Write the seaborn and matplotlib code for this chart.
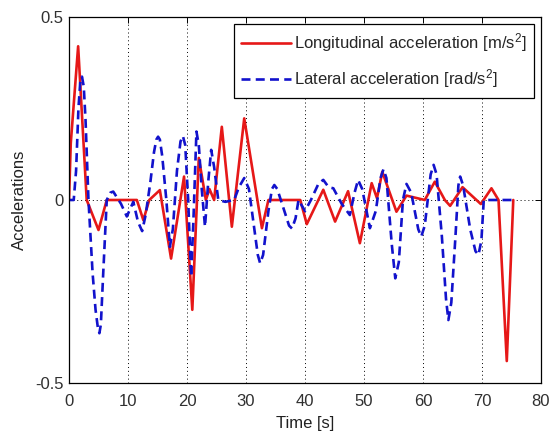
import matplotlib
matplotlib.use("Agg")
import matplotlib.pyplot as plt
import seaborn as sns
import pandas as pd

# Longitudinal acceleration (red, solid)
long_t = [0, 0.3, 1.55, 3.0, 5.0, 6.4, 11.5, 12.6, 13.6, 15.4, 17.3, 19.5, 20.9, 22.0,
          23.2, 23.8, 24.6, 25.9, 27.6, 29.7, 32.7, 33.8, 39.2, 40.3, 43.1, 45.1, 47.3,
          49.3, 51.3, 52.2, 53.1, 55.5, 57.2, 60.3, 62.0, 63.7, 64.6, 66.7, 69.8, 71.6,
          72.8, 74.2, 75.3]
long_v = [0, 0.155, 0.42, 0.0, -0.082, 0.0, 0.0, -0.055, 0.0, 0.027, -0.16, 0.064, -0.30, 0.115,
          0.0, 0.03, 0.0, 0.2, -0.073, 0.223, -0.077, 0.0, 0.0, -0.066, 0.028, -0.059, 0.024,
          -0.118, 0.046, 0.005, 0.077, -0.032, 0.012, 0.0, 0.05, 0.0, -0.016, 0.035, -0.011, 0.032,
          0.0, -0.44, 0.0]

# Lateral acceleration (blue, dashed)
lat_t = [0, 0.8, 1.2, 1.6, 1.9, 2.2, 2.5, 2.8, 3.3, 4.0, 4.5, 4.9, 5.15, 5.4, 5.8, 6.4,
         7.0, 7.5, 8.2, 8.8, 9.8, 10.9, 11.7, 12.4, 13.0, 13.8, 14.4, 14.8, 15.1, 15.4,
         15.8, 16.5, 17.1, 17.6, 18.3, 18.9, 19.3, 19.7, 20.2, 20.7, 21.1, 21.6, 22.0,
         22.5, 23.05, 23.6, 24.1, 24.6, 25.3, 26.5, 28.0, 28.8, 29.7, 30.5, 31.5, 32.0,
         32.4, 32.9, 33.8, 34.4, 34.8, 35.3, 36.5, 37.3, 37.8, 38.4, 38.9, 40.0, 41.0,
         42.3, 43.1, 44.0, 44.8, 46.2, 47.6, 48.4, 49.0, 49.7, 51.0, 52.0, 52.8, 53.3,
         53.8, 54.7, 55.3, 55.9, 56.6, 57.2, 58.0, 59.2, 59.7, 60.3, 61.3, 61.8, 62.3,
         63.2, 63.9, 64.3, 64.8, 65.5, 66.0, 66.3, 66.8, 68.0, 68.9, 69.4, 69.9, 70.3, 75.3]
lat_v = [0, 0.0, 0.08, 0.25, 0.32, 0.337, 0.31, 0.22, 0.0, -0.2, -0.3, -0.35, -0.364, -0.34,
         -0.2, 0.0, 0.02, 0.023, 0.005, -0.01, -0.045, -0.005, -0.06, -0.085, -0.04, 0.05,
         0.13, 0.165, 0.173, 0.165, 0.12, 0.0, -0.128, -0.08, 0.08, 0.16, 0.175, 0.15,
         0.0, -0.21, -0.05, 0.187, 0.15, 0.03, -0.073, 0.05, 0.137, 0.09, 0.0, -0.005,
         0.0, 0.035, 0.06, 0.03, -0.09, -0.15, -0.173, -0.15, -0.03, 0.03, 0.041, 0.03,
         -0.03, -0.07, -0.078, -0.05, 0.0, -0.03, 0.0, 0.045, 0.055, 0.035, 0.032, -0.01,
         -0.041, 0.02, 0.055, 0.03, -0.077, -0.03, 0.06, 0.084, 0.06, -0.12, -0.214,
         -0.17, 0.0, 0.044, 0.02, -0.08, -0.1, -0.07, 0.07, 0.096, 0.07, -0.1, -0.27,
         -0.328, -0.28, -0.1, 0.04, 0.064, 0.04, -0.08, -0.14, -0.15, -0.11, 0.0, 0.0]

long_label = "Longitudinal acceleration [m/s$^2$]"
lat_label = "Lateral acceleration [rad/s$^2$]"

x_ticks = [0, 10, 20, 30, 40, 50, 60, 70, 80]
y_ticks = [-0.5, 0, 0.5]
y_tick_labels = ["-0.5", "0", "0.5"]

sns.set_theme(style="white")
plt.rcParams["font.family"] = ["Liberation Sans", "DejaVu Sans"]
plt.rcParams["mathtext.fontset"] = "custom"
plt.rcParams["mathtext.rm"] = "Liberation Sans"
plt.rcParams["mathtext.it"] = "Liberation Sans"

df_long = pd.DataFrame({"t": long_t, "v": long_v})
df_lat = pd.DataFrame({"t": lat_t, "v": lat_v})

fig = plt.figure(figsize=(5.51, 4.36), dpi=100)
ax = fig.add_axes([69 / 551, 1 - 383 / 436, 472 / 551, 366 / 436])

sns.lineplot(data=df_long, x="t", y="v", ax=ax, color="#e61818", linewidth=1.9,
             label=long_label, sort=False, estimator=None)
sns.lineplot(data=df_lat, x="t", y="v", ax=ax, color="#1212cc", linewidth=1.9,
             label=lat_label, sort=False, estimator=None, linestyle=(0, (3.4, 2.0)))

ax.set_xlim(0, 80)
ax.set_ylim(-0.5, 0.5)
ax.set_xticks(x_ticks)
ax.set_xticklabels([str(v) for v in x_ticks])
ax.set_yticks(y_ticks)
ax.set_yticklabels(y_tick_labels)
ax.grid(True, linestyle=(0, (1, 3)), color="black", linewidth=0.7)
ax.tick_params(direction="in", length=4, width=0.7, top=True, right=True,
               labelsize=12, colors="black", labelcolor="#303030")
ax.tick_params(axis="x", pad=8)
ax.tick_params(axis="y", pad=4)
for s in ax.spines.values():
    s.set_color("black")
    s.set_linewidth(0.9)
ax.set_xlabel("Time [s]", fontsize=12, color="#202020", labelpad=5)
ax.set_ylabel("Accelerations", fontsize=12, color="#202020", labelpad=6)

leg = ax.legend(loc="upper right", fontsize=12, frameon=True, fancybox=False,
                edgecolor="black", framealpha=1, handlelength=3.0, labelspacing=0.8,
                borderaxespad=0.4, borderpad=0.45, handletextpad=0.2)
leg.get_frame().set_linewidth(0.9)

fig.savefig("out.png", dpi=100)
